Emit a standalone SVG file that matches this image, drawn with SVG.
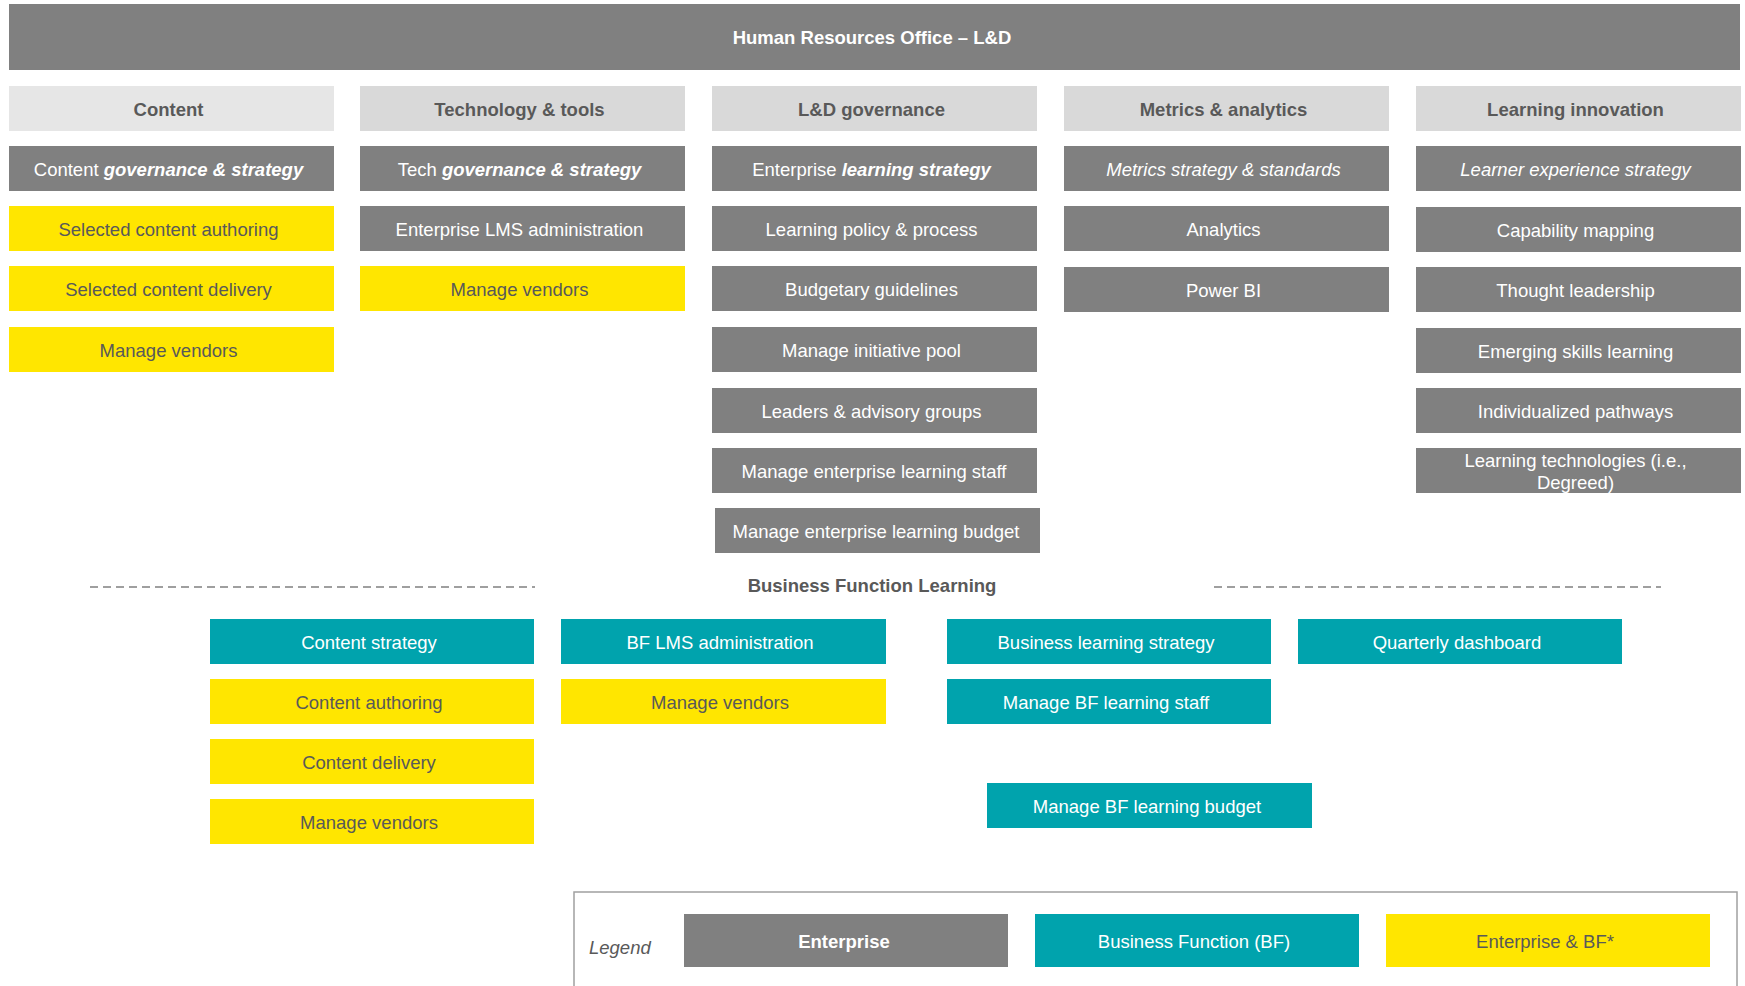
<svg xmlns="http://www.w3.org/2000/svg" width="1745" height="986" viewBox="0 0 1745 986">
<style>
text{font-family:"Liberation Sans",Arial,sans-serif;font-size:18.5px;text-anchor:middle;dominant-baseline:central}
.e{fill:#808080}.h{fill:#D9D9D9}.h1{fill:#E6E6E6}.t{fill:#00A3AD}.y{fill:#FFE600}
.w{fill:#FFFFFF}.d{fill:#595959}.b{font-weight:bold}.i{font-style:italic}.bi{font-weight:bold;font-style:italic}
</style>
<rect width="1745" height="986" fill="#FFFFFF"/>
<g id="top"><rect class="e" x="9" y="4" width="1731" height="66"/><text class="w b" x="872" y="37">Human Resources Office – L&amp;D</text></g>

<g id="col-content">
<rect class="h1" x="9" y="86" width="325" height="45"/><text class="d b" x="168.5" y="109">Content</text>
<rect class="e" x="9" y="146" width="325" height="45"/><text class="w" x="168.5" y="169">Content <tspan class="bi">governance &amp; strategy</tspan></text>
<rect class="y" x="9" y="206" width="325" height="45"/><text class="d" x="168.5" y="229.5">Selected content authoring</text>
<rect class="y" x="9" y="266" width="325" height="45"/><text class="d" x="168.5" y="289.5">Selected content delivery</text>
<rect class="y" x="9" y="327" width="325" height="45"/><text class="d" x="168.5" y="350.5">Manage vendors</text>
</g>

<g id="col-tech">
<rect class="h" x="360" y="86" width="325" height="45"/><text class="d b" x="519.5" y="109">Technology &amp; tools</text>
<rect class="e" x="360" y="146" width="325" height="45"/><text class="w" x="519.5" y="169">Tech <tspan class="bi">governance &amp; strategy</tspan></text>
<rect class="e" x="360" y="206" width="325" height="45"/><text class="w" x="519.5" y="229.5">Enterprise LMS administration</text>
<rect class="y" x="360" y="266" width="325" height="45"/><text class="d" x="519.5" y="289.5">Manage vendors</text>
</g>

<g id="col-ld">
<rect class="h" x="712" y="86" width="325" height="45"/><text class="d b" x="871.5" y="109">L&amp;D governance</text>
<rect class="e" x="712" y="146" width="325" height="45"/><text class="w" x="871.5" y="169">Enterprise <tspan class="bi">learning strategy</tspan></text>
<rect class="e" x="712" y="206" width="325" height="45"/><text class="w" x="871.5" y="229.5">Learning policy &amp; process</text>
<rect class="e" x="712" y="266" width="325" height="45"/><text class="w" x="871.5" y="289.5">Budgetary guidelines</text>
<rect class="e" x="712" y="327" width="325" height="45"/><text class="w" x="871.5" y="350.5">Manage initiative pool</text>
<rect class="e" x="712" y="388" width="325" height="45"/><text class="w" x="871.5" y="411">Leaders &amp; advisory groups</text>
<rect class="e" x="712" y="448" width="325" height="45"/><text class="w" x="874" y="471">Manage enterprise learning staff</text>
<rect class="e" x="715" y="508" width="325" height="45"/><text class="w" x="876" y="531">Manage enterprise learning budget</text>
</g>

<g id="col-metrics">
<rect class="h" x="1064" y="86" width="325" height="45"/><text class="d b" x="1223.5" y="109">Metrics &amp; analytics</text>
<rect class="e" x="1064" y="146" width="325" height="45"/><text class="w i" x="1223.5" y="169">Metrics strategy &amp; standards</text>
<rect class="e" x="1064" y="206" width="325" height="45"/><text class="w" x="1223.5" y="229.5">Analytics</text>
<rect class="e" x="1064" y="267" width="325" height="45"/><text class="w" x="1223.5" y="290">Power BI</text>
</g>

<g id="col-innovation">
<rect class="h" x="1416" y="86" width="325" height="45"/><text class="d b" x="1575.5" y="109">Learning innovation</text>
<rect class="e" x="1416" y="146" width="325" height="45"/><text class="w i" x="1575.5" y="169">Learner experience strategy</text>
<rect class="e" x="1416" y="207" width="325" height="45"/><text class="w" x="1575.5" y="230">Capability mapping</text>
<rect class="e" x="1416" y="267" width="325" height="45"/><text class="w" x="1575.5" y="290">Thought leadership</text>
<rect class="e" x="1416" y="328" width="325" height="45"/><text class="w" x="1575.5" y="351">Emerging skills learning</text>
<rect class="e" x="1416" y="388" width="325" height="45"/><text class="w" x="1575.5" y="411">Individualized pathways</text>
<rect class="e" x="1416" y="448" width="325" height="45"/><text class="w" x="1575.5" y="460">Learning technologies (i.e.,</text><text class="w" x="1575.5" y="482">Degreed)</text>
</g>

<g id="connectors">
<line x1="90" y1="587" x2="535" y2="587" stroke="#808080" stroke-width="1.5" stroke-dasharray="8 5"/>
<line x1="1214" y1="587" x2="1661" y2="587" stroke="#808080" stroke-width="1.5" stroke-dasharray="8 5"/>
</g>
<g id="bf-title"><text class="d b" x="872" y="585">Business Function Learning</text></g>

<g id="bf-content">
<rect class="t" x="210" y="619" width="324" height="45"/><text class="w" x="369" y="642">Content strategy</text>
<rect class="y" x="210" y="679" width="324" height="45"/><text class="d" x="369" y="702">Content authoring</text>
<rect class="y" x="210" y="739" width="324" height="45"/><text class="d" x="369" y="762">Content delivery</text>
<rect class="y" x="210" y="799" width="324" height="45"/><text class="d" x="369" y="822">Manage vendors</text>
</g>
<g id="bf-lms">
<rect class="t" x="561" y="619" width="325" height="45"/><text class="w" x="720" y="642">BF LMS administration</text>
<rect class="y" x="561" y="679" width="325" height="45"/><text class="d" x="720" y="702">Manage vendors</text>
</g>
<g id="bf-strategy">
<rect class="t" x="947" y="619" width="324" height="45"/><text class="w" x="1106" y="642">Business learning strategy</text>
<rect class="t" x="947" y="679" width="324" height="45"/><text class="w" x="1106" y="702">Manage BF learning staff</text>
<rect class="t" x="987" y="783" width="325" height="45"/><text class="w" x="1147" y="806">Manage BF learning budget</text>
</g>
<g id="bf-dashboard">
<rect class="t" x="1298" y="619" width="324" height="45"/><text class="w" x="1457" y="642">Quarterly dashboard</text>
</g>

<g id="legend">
<rect x="574" y="892" width="1163" height="120" fill="none" stroke="#A0A0A0" stroke-width="1.5"/>
<text class="d i" x="589" y="947" style="text-anchor:start">Legend</text>
<rect class="e" x="684" y="914" width="324" height="53"/><text class="w b" x="844" y="941">Enterprise</text>
<rect class="t" x="1035" y="914" width="324" height="53"/><text class="w" x="1194" y="941">Business Function (BF)</text>
<rect class="y" x="1386" y="914" width="324" height="53"/><text class="d" x="1545" y="941">Enterprise &amp; BF*</text>
</g>
</svg>
